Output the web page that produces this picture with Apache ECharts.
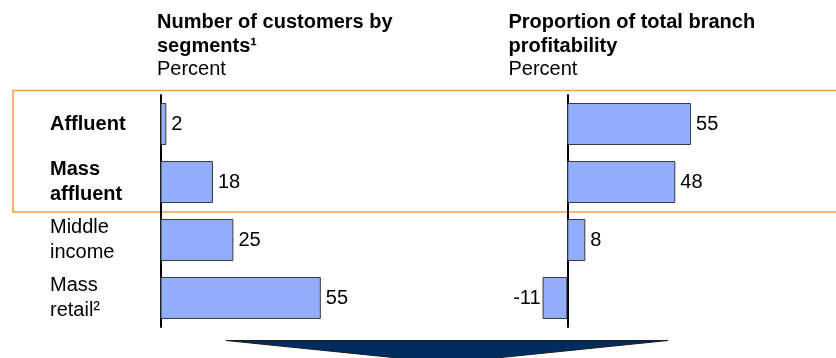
<!DOCTYPE html>
<html>
<head>
<meta charset="utf-8">
<style>
  html, body { margin: 0; padding: 0; background: #ffffff; }
  #chart { width: 836px; height: 358px; }
</style>
<script src="https://cdn.jsdelivr.net/npm/echarts@6/dist/echarts.min.js"></script>
</head>
<body>
<div id="chart"></div>
<script>
// Customer segments (top to bottom) and which ones are highlighted in bold
const segments = ['Affluent', 'Mass\naffluent', 'Middle\nincome', 'Mass\nretail\u00b2'];
const highlighted = [true, true, false, false];

// Share of customers by segment, percent
const customerShare = [2, 18, 25, 55];
// Share of total branch profitability by segment, percent
const profitShare = [55, 48, 8, -11];

// Panel headings
const leftTitle = ['Number of customers by', 'segments\u00b9'];
const rightTitle = ['Proportion of total branch', 'profitability'];
const unitLabel = 'Percent';

const FONT = '"Liberation Sans", Arial, Helvetica, sans-serif';
const BAR_FILL = '#92adf9';
const BAR_EDGE = '#3a3a3a';

const chart = echarts.init(document.getElementById('chart'), null, { renderer: 'canvas' });

function headingText(lines) {
  return lines.map(l => '{b|' + l + '}').join('\n') + '\n{r|' + unitLabel + '}';
}

const headingRich = {
  b: { fontFamily: FONT, fontSize: 20, fontWeight: 'bold', color: '#000', lineHeight: 23.5 },
  r: { fontFamily: FONT, fontSize: 20, color: '#000', lineHeight: 23.5 }
};

function valueLabel(value) {
  return {
    show: true,
    position: value < 0 ? 'left' : 'right',
    distance: value < 0 ? 2 : 5,
    fontFamily: FONT,
    fontSize: 20,
    color: '#000',
    formatter: '{c}'
  };
}

function barData(values) {
  return values.map(v => ({ value: v, label: valueLabel(v) }));
}

const option = {
  backgroundColor: '#ffffff',
  animation: false,
  grid: [
    { left: 160.5, top: 95, width: 291.5, height: 232, containLabel: false },
    { left: 477.3, top: 95, width: 270, height: 232, containLabel: false }
  ],
  xAxis: [
    { gridIndex: 0, type: 'value', min: 0, max: 100, show: false },
    { gridIndex: 1, type: 'value', min: -40, max: 80, show: false }
  ],
  yAxis: [
    {
      gridIndex: 0,
      type: 'category',
      inverse: true,
      data: segments,
      axisTick: { show: false },
      axisLine: { show: true, onZero: true, lineStyle: { color: '#000', width: 2 } },
      axisLabel: {
        margin: 110.5,
        align: 'left',
        formatter: function (value, idx) {
          const style = highlighted[idx] ? 'b' : 'r';
          return value.split('\n').map(l => '{' + style + '|' + l + '}').join('\n');
        },
        rich: {
          b: { fontFamily: FONT, fontSize: 20, fontWeight: 'bold', color: '#000', lineHeight: 24.3 },
          r: { fontFamily: FONT, fontSize: 20, color: '#000', lineHeight: 24.3 }
        }
      }
    },
    {
      gridIndex: 1,
      type: 'category',
      inverse: true,
      data: segments,
      axisTick: { show: false },
      axisLabel: { show: false },
      axisLine: { show: true, onZero: true, lineStyle: { color: '#000', width: 2 } }
    }
  ],
  series: [
    {
      name: 'Number of customers',
      type: 'bar',
      xAxisIndex: 0,
      yAxisIndex: 0,
      barWidth: 42,
      data: barData(customerShare),
      itemStyle: { color: BAR_FILL, borderColor: BAR_EDGE, borderWidth: 1 },
      z: 1
    },
    {
      name: 'Branch profitability',
      type: 'bar',
      xAxisIndex: 1,
      yAxisIndex: 1,
      barWidth: 42,
      data: barData(profitShare),
      itemStyle: { color: BAR_FILL, borderColor: BAR_EDGE, borderWidth: 1 },
      z: 1
    }
  ],
  graphic: [
    {
      // frame around the highlighted segments
      type: 'rect',
      z: 0,
      silent: true,
      shape: { x: 13, y: 90.5, width: 830, height: 121.5 },
      style: { fill: 'none', stroke: '#f5a04a', lineWidth: 1.6 }
    },
    {
      type: 'text',
      x: 157,
      y: 46,
      style: {
        text: headingText(leftTitle),
        rich: headingRich,
        align: 'left',
        verticalAlign: 'middle'
      }
    },
    {
      type: 'text',
      x: 508.5,
      y: 46,
      style: {
        text: headingText(rightTitle),
        rich: headingRich,
        align: 'left',
        verticalAlign: 'middle'
      }
    },
    {
      // downward arrow below the panels
      type: 'polygon',
      silent: true,
      shape: { points: [[226, 340.5], [668, 340.5], [447, 363]] },
      style: { fill: '#002b5e', stroke: '#1c1c1c', lineWidth: 1 }
    }
  ]
};

chart.setOption(option);
</script>
</body>
</html>
